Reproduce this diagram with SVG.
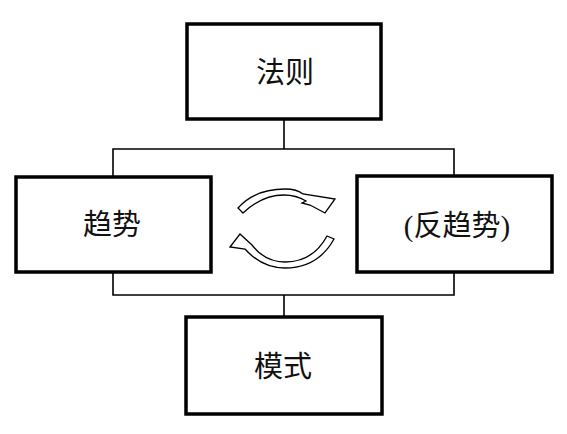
<svg xmlns="http://www.w3.org/2000/svg" width="567" height="434" viewBox="0 0 567 434">
<style>
.box{fill:#fff;stroke:#000;stroke-width:3.5}
.lbl{font-family:"Liberation Serif","Noto Sans CJK SC",serif;font-size:29px;fill:#111;text-anchor:middle;dominant-baseline:central}
.conn{fill:none;stroke:#000;stroke-width:1.6}
.cyc{fill:#fff;stroke:#000;stroke-width:1.3;stroke-linejoin:miter}
</style>
<rect width="567" height="434" fill="#fff"/>
<g id="connectors">
<path class="conn" d="M284,119 V149 M113,177 V149 H454 V176 M113,272 V295 H454 V272 M284,295 V317"/>
</g>
<g id="cycle">
<path class="cyc" d="M238,208 Q255,189 285,189 Q297,189 303,194 L335,199 L325,213 L310,205 L302,203 L306,201 Q296,195 284,195 Q262,195 243,213 Z"/>
<path class="cyc" d="M230,247 L240,234 L252,245 Q265,262 285,262 Q313,262 327,236 L334,239 Q318,268 285,268 Q262,268 245,249 Z"/>
</g>
<g id="n-rule"><rect class="box" x="187" y="24" width="194" height="95"/><text class="lbl" x="285" y="73">法则</text></g>
<g id="n-trend"><rect class="box" x="16" y="177" width="195" height="95"/><text class="lbl" x="112" y="225">趋势</text></g>
<g id="n-counter"><rect class="box" x="357" y="176" width="195" height="96"/><text class="lbl" x="457" y="226">(反趋势)</text></g>
<g id="n-pattern"><rect class="box" x="186" y="317" width="196" height="97"/><text class="lbl" x="283" y="367">模式</text></g>
</svg>
